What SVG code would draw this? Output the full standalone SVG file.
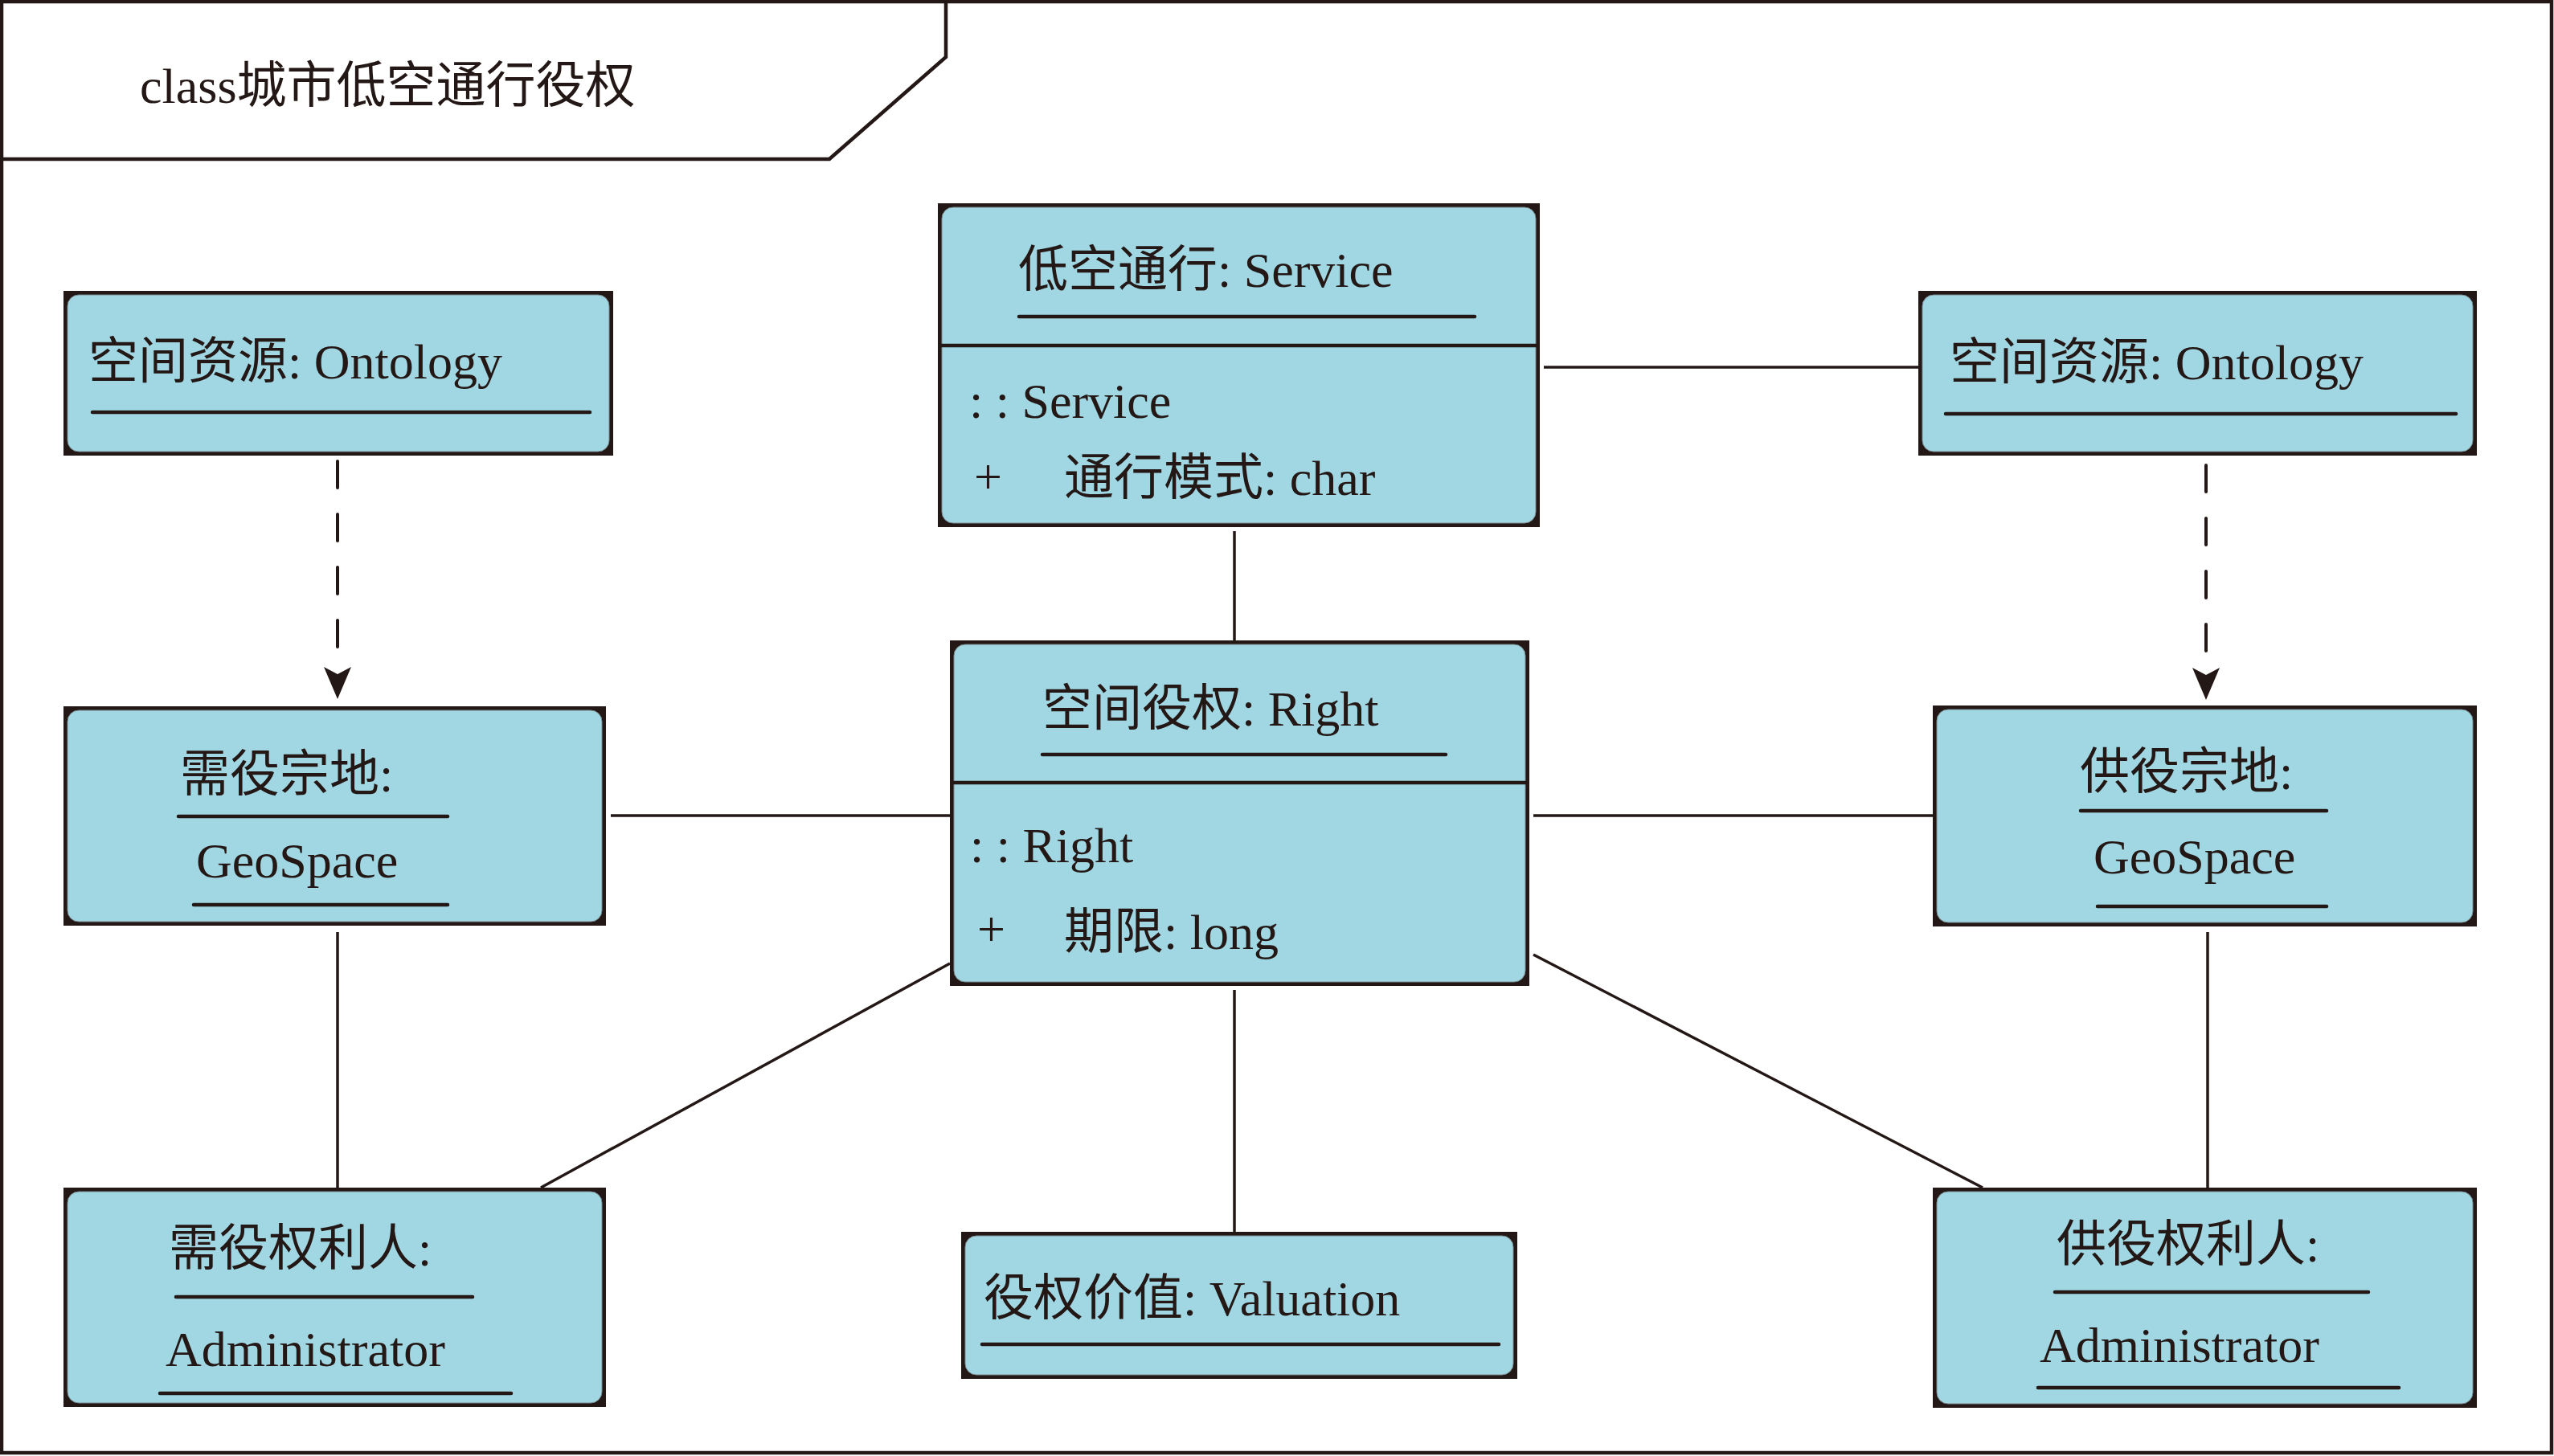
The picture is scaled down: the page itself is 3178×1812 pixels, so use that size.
<svg xmlns="http://www.w3.org/2000/svg" width="3178" height="1812" viewBox="0 0 3178 1812">
<style>
.t{font-family:'Liberation Serif','Noto Sans CJK SC',serif;font-size:62px;fill:#231815}
.bd{fill:#231815}
.fl{fill:#a1d7e3;stroke:#7a8a8e;stroke-width:1}
.ul{stroke:#231815;stroke-width:4.5;stroke-linecap:round;fill:none}
.dv{stroke:#231815;stroke-width:4.5;fill:none}
.cn{stroke:#231815;stroke-width:3.5;fill:none}
.ds{stroke:#231815;stroke-width:4;fill:none;stroke-dasharray:33 33;stroke-linecap:round}
.fr{stroke:#231815;stroke-width:4.5;fill:none}
</style>
<defs>
<path id="arr" d="M-17,0 L0,9 L17,0 L0,40 Z" fill="#231815"/>
</defs>
<rect x="0" y="0" width="3178" height="1812" fill="#ffffff"/>
<g id="frame">
<rect class="fr" x="2" y="2" width="3173" height="1806"/>
<path class="fr" d="M2,198 L1032,198 L1177,71 L1177,2"/>
<text class="t" x="174" y="128">class城市低空通行役权</text>
</g>
<g id="connectors">
<line class="cn" x1="1921" y1="457" x2="2387" y2="457"/>
<line class="cn" x1="1536" y1="661" x2="1536" y2="797"/>
<line class="cn" x1="760" y1="1015" x2="1182" y2="1015"/>
<line class="cn" x1="1908" y1="1015" x2="2405" y2="1015"/>
<line class="cn" x1="420" y1="1160" x2="420" y2="1478"/>
<line class="cn" x1="2747" y1="1160" x2="2747" y2="1478"/>
<line class="cn" x1="1182" y1="1199" x2="673" y2="1478"/>
<line class="cn" x1="1908" y1="1188" x2="2467" y2="1478"/>
<line class="cn" x1="1536" y1="1232" x2="1536" y2="1533"/>
<line class="ds" x1="420" y1="574" x2="420" y2="808"/>
<use href="#arr" x="420" y="830"/>
<line class="ds" x1="2745" y1="579" x2="2745" y2="810"/>
<use href="#arr" x="2745" y="831"/>
</g>
<g id="node-ontology-left">
<rect class="bd" x="79" y="362" width="684" height="205"/>
<rect class="fl" x="84" y="367" width="674" height="195" rx="14"/>
<text class="t" x="110" y="471">空间资源: Ontology</text>
<line class="ul" x1="115" y1="513" x2="734" y2="513"/>
</g>
<g id="node-service">
<rect class="bd" x="1167" y="253" width="749" height="403"/>
<rect class="fl" x="1172" y="258" width="739" height="393" rx="14"/>
<line class="dv" x1="1170" y1="430" x2="1913" y2="430"/>
<text class="t" x="1267" y="357">低空通行: Service</text>
<line class="ul" x1="1268" y1="394" x2="1835" y2="394"/>
<text class="t" x="1206" y="520">: : Service</text>
<text class="t" x="1212" y="614">+</text>
<text class="t" x="1324" y="616">通行模式: char</text>
</g>
<g id="node-ontology-right">
<rect class="bd" x="2387" y="362" width="695" height="205"/>
<rect class="fl" x="2392" y="367" width="685" height="195" rx="14"/>
<text class="t" x="2426" y="472">空间资源: Ontology</text>
<line class="ul" x1="2421" y1="515" x2="3056" y2="515"/>
</g>
<g id="node-need-land">
<rect class="bd" x="79" y="879" width="675" height="273"/>
<rect class="fl" x="84" y="884" width="665" height="263" rx="14"/>
<text class="t" x="224" y="985">需役宗地:</text>
<line class="ul" x1="222" y1="1016" x2="557" y2="1016"/>
<text class="t" x="244" y="1092">GeoSpace</text>
<line class="ul" x1="241" y1="1126" x2="557" y2="1126"/>
</g>
<g id="node-right">
<rect class="bd" x="1182" y="797" width="721" height="430"/>
<rect class="fl" x="1187" y="802" width="711" height="420" rx="14"/>
<line class="dv" x1="1185" y1="974" x2="1900" y2="974"/>
<text class="t" x="1297" y="903">空间役权: Right</text>
<line class="ul" x1="1297" y1="939" x2="1799" y2="939"/>
<text class="t" x="1207" y="1073">: : Right</text>
<text class="t" x="1216" y="1177">+</text>
<text class="t" x="1324" y="1181">期限: long</text>
</g>
<g id="node-supply-land">
<rect class="bd" x="2405" y="878" width="677" height="275"/>
<rect class="fl" x="2410" y="883" width="667" height="265" rx="14"/>
<text class="t" x="2588" y="982">供役宗地:</text>
<line class="ul" x1="2589" y1="1009" x2="2895" y2="1009"/>
<text class="t" x="2605" y="1087">GeoSpace</text>
<line class="ul" x1="2610" y1="1128" x2="2895" y2="1128"/>
</g>
<g id="node-need-admin">
<rect class="bd" x="79" y="1478" width="675" height="273"/>
<rect class="fl" x="84" y="1483" width="665" height="263" rx="14"/>
<text class="t" x="210" y="1575">需役权利人:</text>
<line class="ul" x1="219" y1="1614" x2="588" y2="1614"/>
<text class="t" x="206" y="1700">Administrator</text>
<line class="ul" x1="199" y1="1734" x2="636" y2="1734"/>
</g>
<g id="node-valuation">
<rect class="bd" x="1196" y="1533" width="692" height="183"/>
<rect class="fl" x="1201" y="1538" width="682" height="173" rx="14"/>
<text class="t" x="1224" y="1637">役权价值: Valuation</text>
<line class="ul" x1="1222" y1="1673" x2="1865" y2="1673"/>
</g>
<g id="node-supply-admin">
<rect class="bd" x="2405" y="1478" width="677" height="274"/>
<rect class="fl" x="2410" y="1483" width="667" height="264" rx="14"/>
<text class="t" x="2559" y="1570">供役权利人:</text>
<line class="ul" x1="2557" y1="1608" x2="2947" y2="1608"/>
<text class="t" x="2538" y="1695">Administrator</text>
<line class="ul" x1="2536" y1="1727" x2="2985" y2="1727"/>
</g>
</svg>
